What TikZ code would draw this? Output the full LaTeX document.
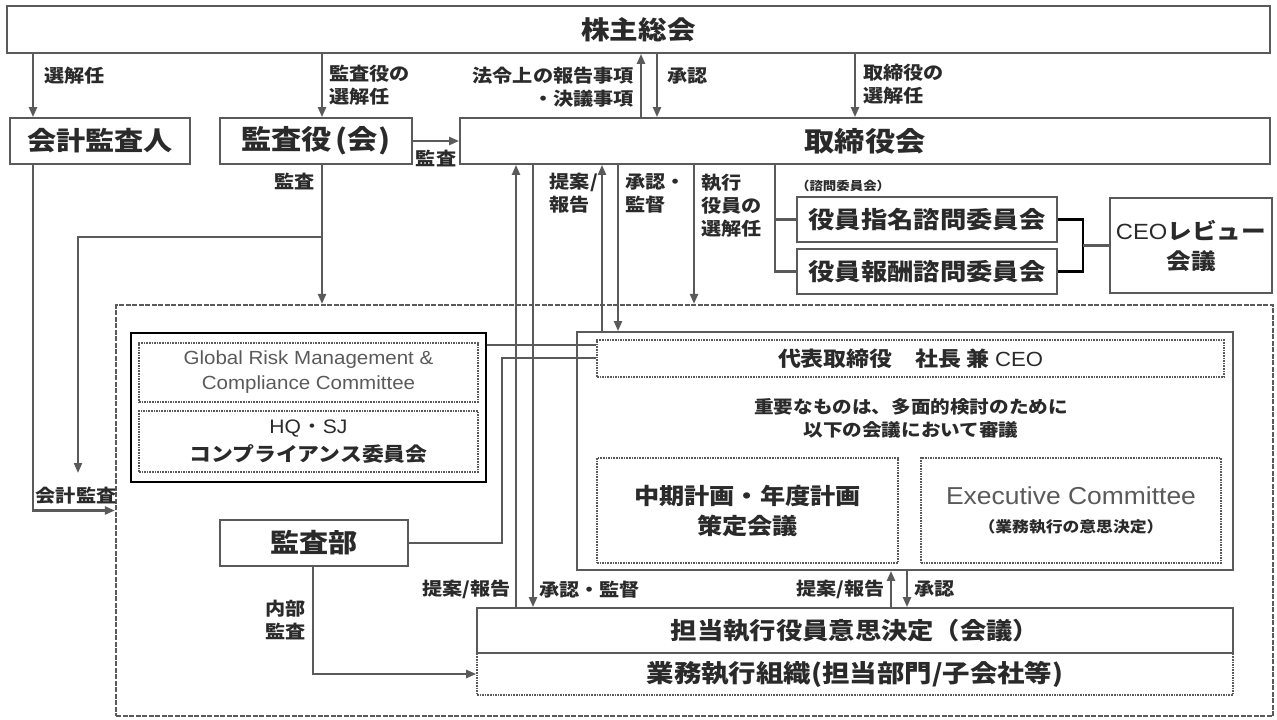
\documentclass[tikz,border=0pt]{standalone}
\usepackage{fontspec}
\setmainfont{Noto Sans CJK JP}[FakeStretch=1.12]
\newfontfamily\latinfont{Liberation Sans}[FakeStretch=1.08]
\usetikzlibrary{arrows.meta}
\definecolor{linegray}{HTML}{5A5A5A}
\definecolor{textgray}{HTML}{2A2A2A}
\begin{document}
\begin{tikzpicture}[x=1pt, y=-1pt, line width=2.2pt, draw=linegray,
    main box/.style={rectangle, draw=linegray, line width=1.8pt, inner sep=0pt, font=\bfseries\fontsize{26}{30}\selectfont},
    dot box/.style={rectangle, draw=linegray, line width=1.6pt, densely dotted, inner sep=0pt},
    label node/.style={font=\bfseries\fontsize{18}{23}\selectfont, inner sep=0pt},
    arr/.style={-{Triangle[length=10pt,width=8pt]}}]
        \tikzstyle{every node}=[text=textgray]
        \useasboundingbox (0,0) rectangle (1277,720);

          % outer frame
          \node[rectangle, draw=linegray, line width=2.2pt, dash pattern=on 5pt off 1.5pt, minimum width=1157pt, minimum height=411pt] (outer) at (694.5,510.5) {};

          \node[main box, minimum width=1263pt, minimum height=47pt, font=\bfseries\fontsize{25.5}{30}\selectfont] (kabu) at (638.5,29.5) {株主総会};
          \node[main box, minimum width=180pt, minimum height=46pt] (kaikei) at (100,141) {会計監査人};
          \node[main box, minimum width=192pt, minimum height=46pt, font=\bfseries\fontsize{27}{30}\selectfont] (kansayaku) at (316,141) {監査役\hspace{3pt}(会\hspace{1pt})};
          \node[main box, minimum width=810pt, minimum height=46pt, font=\bfseries\fontsize{27}{30}\selectfont] (torishimari) at (865,141) {取締役会};

          % advisory committees
          \node[label node, font=\bfseries\fontsize{12}{14}\selectfont, anchor=west] (shimon) at (795,186) {（諮問委員会）};
          \node[main box, minimum width=260pt, minimum height=45pt, font=\bfseries\fontsize{23.5}{26}\selectfont] (shimei) at (927,219.5) {役員指名諮問委員会};
          \node[main box, minimum width=260pt, minimum height=45pt, font=\bfseries\fontsize{23.5}{26}\selectfont] (houshu) at (927,271.5) {役員報酬諮問委員会};
          \node[main box, minimum width=162pt, minimum height=95pt, align=center, font=\bfseries\fontsize{22}{30}\selectfont] (ceorev) at (1191,245.5) {{\mdseries\latinfont CEO}レビュー\\会議};

          % compliance
          \node[rectangle, draw=black, line width=2.6pt, minimum width=355pt, minimum height=149pt] (comp) at (308.5,407.5) {};
          \node[dot box, minimum width=339pt, minimum height=59pt, align=center, font=\latinfont\fontsize{19}{25}\selectfont, text=linegray] (grmc) at (308.5,372.5) {Global Risk Management \&\\Compliance Committee};
          \node[dot box, minimum width=339pt, minimum height=61pt, align=center, font=\fontsize{19.5}{28}\selectfont] (hqsj) at (308.5,441.5) {{\latinfont HQ}・{\latinfont SJ}\\{\bfseries コンプライアンス委員会}};

          % CEO block
          \node[rectangle, draw=linegray, line width=1.8pt, minimum width=656pt, minimum height=238pt] (ceobox) at (905,451) {};
          \node[dot box, minimum width=627pt, minimum height=37pt, font=\fontsize{20.5}{24}\selectfont] (ceo) at (910.5,358.5) {{\bfseries 代表取締役　社長 兼} {\latinfont CEO}};
          \node[align=center, font=\bfseries\fontsize{17.5}{23}\selectfont] (juuyou) at (911,418) {重要なものは、多面的検討のために\\以下の会議において審議};
          \node[dot box, minimum width=301pt, minimum height=105pt, align=center, font=\bfseries\fontsize{22.5}{30}\selectfont] (chuuki) at (747.5,510.5) {中期計画・年度計画\\策定会議};
          \node[dot box, minimum width=300pt, minimum height=105pt, align=center, font=\fontsize{15}{28}\selectfont] (exec) at (1071,510.5) {{\latinfont\fontsize{24.5}{28}\selectfont\color{linegray}Executive Committee}\\{\bfseries （業務執行の意思決定）}};

          % execution
          \node[dot box, minimum width=756pt, minimum height=42pt, font=\bfseries\fontsize{24.5}{28}\selectfont] (gyoumu) at (855,674) {業務執行組織(担当部門/子会社等)};
          \node[main box, minimum width=756pt, minimum height=45pt, font=\bfseries\fontsize{23.5}{28}\selectfont, fill=white] (tantou) at (855,630.5) {担当執行役員意思決定（会議）};
          \node[main box, minimum width=188pt, minimum height=46pt] (kansabu) at (314,543) {監査部};

          % connectors
          \draw[arr] (33,0 |- kabu.south) -- node[label node, right=10pt, pos=.35] {選解任} (33,0 |- kaikei.north);
          \draw[arr] (322,0 |- kabu.south) -- node[label node, right=6pt, pos=.5, align=left] {監査役の\\選解任} (322,0 |- kansayaku.north);
          \draw[arr] (641,0 |- torishimari.north) -- node[label node, left=6pt, pos=.48, align=right] {法令上の報告事項\\・決議事項} (641,0 |- kabu.south);
          \draw[arr] (657,0 |- kabu.south) -- node[label node, right=9pt, pos=.35] {承認} (657,0 |- torishimari.north);
          \draw[arr] (855,0 |- kabu.south) -- node[label node, right=7pt, pos=.48, align=left] {取締役の\\選解任} (855,0 |- torishimari.north);
          \draw[arr] (kansayaku.east) -- node[label node, below=8pt] {監査} (torishimari.west |- kansayaku.east);

          \draw[arr] (33,0 |- kaikei.south) |- (outer.west);
          \node[label node] (kkansa) at (76,496) {会計監査};
          \draw[arr] (322,0 |- kansayaku.south) -- node[label node, left=6pt, pos=.12] {監査} (322,0 |- outer.north);
          \coordinate (branch) at (322,237);
          \coordinate (kkend) at (78,473);
          \draw[arr] (branch) -| (kkend);

          \draw[arr] (694,0 |- torishimari.south) -- node[label node, right=6pt, pos=.29, align=left] {執行\\役員の\\選解任} (694,0 |- outer.north);
          \draw[arr] (602,0 |- ceobox.north) -- node[label node, left=3pt, pos=.83, align=left] {提案/\\報告} (602,0 |- torishimari.south);
          \draw[arr] (618,0 |- torishimari.south) -- node[label node, right=6pt, pos=.17, align=left] {承認・\\監督} (618,0 |- ceobox.north);
          \draw[arr] (516,0 |- tantou.north) -- node[label node, left=4pt, pos=.04] {提案/報告} (516,0 |- torishimari.south);
          \draw[arr] (533,0 |- torishimari.south) -- node[label node, right=5pt, pos=.96] {承認・監督} (533,0 |- tantou.north);

          \draw (775,0 |- torishimari.south) |- (houshu.west);
          \draw (775,0 |- shimei.west) -- (shimei.west);
          \draw[black, line width=2.8pt] (shimei.east) -| (1083,0 |- houshu.east) -- (houshu.east);
          \draw (1083,0 |- ceorev.west) -- (ceorev.west);

          \draw (comp.east |- 0,345) -- (ceo.west |- 0,345);
          \draw (kansabu.east) -| (502,358) -- (ceo.west |- 0,358);
          \draw[arr] (313,0 |- kansabu.south) |- node[label node, left=6pt, pos=.25, align=right] {内部\\監査} (gyoumu.west);

          \draw[arr] (891,0 |- tantou.north) -- node[label node, left=5pt] {提案/報告} (891,0 |- ceobox.south);
          \draw[arr] (907,0 |- ceobox.south) -- node[label node, right=6pt] {承認} (907,0 |- tantou.north);

        \end{tikzpicture}
\end{document}
